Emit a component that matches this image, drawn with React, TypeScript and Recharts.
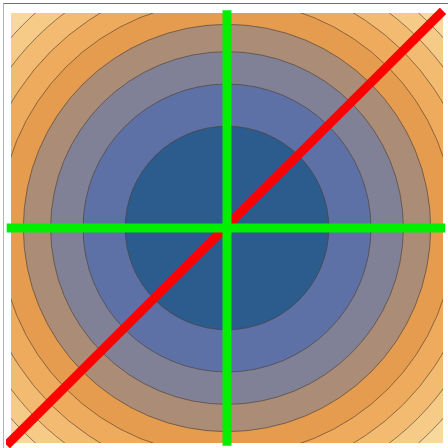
import React from 'react';
import {
  ComposedChart,
  XAxis,
  YAxis,
  ZAxis,
  Scatter,
  Cell,
  ReferenceArea,
} from 'recharts';

// Contour levels of f(x, y) = x^2 + y^2 on [-3, 3] x [-3, 3]
const levels = [2, 4, 6, 8, 10, 12, 14, 16, 18];
const bandColors = [
  '#2c5b8d',
  '#5d71a6',
  '#808196',
  '#aa8c77',
  '#e59c4e',
  '#eeab5d',
  '#f2bb71',
  '#f6ca87',
  '#f9d89e',
];
const outerColor = '#fbe2ae';
const axisDomain: [number, number] = [-3, 3];

// Overlay lines (data coordinates)
const redLine = [
  { x: -3.06, y: -3.03 },
  { x: 3.0, y: 3.03 },
];
const greenVertical = [
  { x: 0, y: -3.04 },
  { x: 0, y: 3.04 },
];
const greenHorizontal = [
  { x: -3.06, y: 0 },
  { x: 3.03, y: 0 },
];

const contourPoints = [...levels].reverse().map((level) => ({ x: 0, y: 0, level }));
const contourColors = [...bandColors].reverse();

const CHART_W = 448;
const CHART_H = 448;
const MARGIN = { top: 13, left: 11, right: 5, bottom: 5 };
const PLOT_W = CHART_W - MARGIN.left - MARGIN.right;
const PLOT_H = CHART_H - MARGIN.top - MARGIN.bottom;
const PX_PER_UNIT_X = PLOT_W / (axisDomain[1] - axisDomain[0]);
const PX_PER_UNIT_Y = PLOT_H / (axisDomain[1] - axisDomain[0]);
const maxLevel = levels[levels.length - 1];
// symbol area (px^2) is linear in level, since level = r^2
const zRange: [number, number] = [0, Math.PI * PX_PER_UNIT_X * PX_PER_UNIT_X * maxLevel];

// Overlay chart: same scale, plot area grown by EXT px on every side (so lines can overflow the frame)
const EXT = 5;
const OVERLAY_MARGIN = {
  top: MARGIN.top - EXT,
  left: MARGIN.left - EXT,
  right: MARGIN.right - EXT,
  bottom: MARGIN.bottom - EXT,
};
const overlayX: [number, number] = [axisDomain[0] - EXT / PX_PER_UNIT_X, axisDomain[1] + EXT / PX_PER_UNIT_X];
const overlayY: [number, number] = [axisDomain[0] - EXT / PX_PER_UNIT_Y, axisDomain[1] + EXT / PX_PER_UNIT_Y];

const NoDot = () => null;

export default function App() {
  return (
    <div style={{ position: 'absolute', left: 0, top: 0, width: 448, height: 448, background: '#fff' }}>
      <div
        style={{
          position: 'absolute',
          left: 3,
          top: 3,
          width: 445,
          height: 445,
          borderTop: '1px solid #6e6e6e',
          borderLeft: '1px solid #b4b4b4',
          boxSizing: 'border-box',
        }}
      />
      <div style={{ position: 'absolute', left: 0, top: 0 }}>
        <ComposedChart width={CHART_W} height={CHART_H} margin={MARGIN}>
          <XAxis type="number" dataKey="x" domain={axisDomain} hide allowDataOverflow />
          <YAxis type="number" dataKey="y" domain={axisDomain} hide allowDataOverflow />
          <ZAxis type="number" dataKey="level" domain={[0, maxLevel]} range={zRange} />
          <ReferenceArea
            x1={axisDomain[0]}
            x2={axisDomain[1]}
            y1={axisDomain[0]}
            y2={axisDomain[1]}
            fill={outerColor}
            fillOpacity={1}
            stroke="none"
          />
          <Scatter data={contourPoints} isAnimationActive={false} stroke="#4b3b2a" strokeOpacity={0.75} strokeWidth={0.8}>
            {contourPoints.map((p, i) => (
              <Cell key={p.level} fill={contourColors[i]} />
            ))}
          </Scatter>
        </ComposedChart>
      </div>
      <div style={{ position: 'absolute', left: 0, top: 0 }}>
        <ComposedChart width={CHART_W} height={CHART_H} margin={OVERLAY_MARGIN}>
          <XAxis type="number" dataKey="x" domain={overlayX} hide allowDataOverflow />
          <YAxis type="number" dataKey="y" domain={overlayY} hide allowDataOverflow />
          <Scatter
            data={redLine}
            isAnimationActive={false}
            line={{ stroke: '#ff0000', strokeWidth: 9 }}
            lineType="joint"
            shape={NoDot}
          />
          <Scatter
            data={greenVertical}
            isAnimationActive={false}
            line={{ stroke: '#00f000', strokeWidth: 9 }}
            lineType="joint"
            shape={NoDot}
          />
          <Scatter
            data={greenHorizontal}
            isAnimationActive={false}
            line={{ stroke: '#00f000', strokeWidth: 9 }}
            lineType="joint"
            shape={NoDot}
          />
        </ComposedChart>
      </div>
    </div>
  );
}
